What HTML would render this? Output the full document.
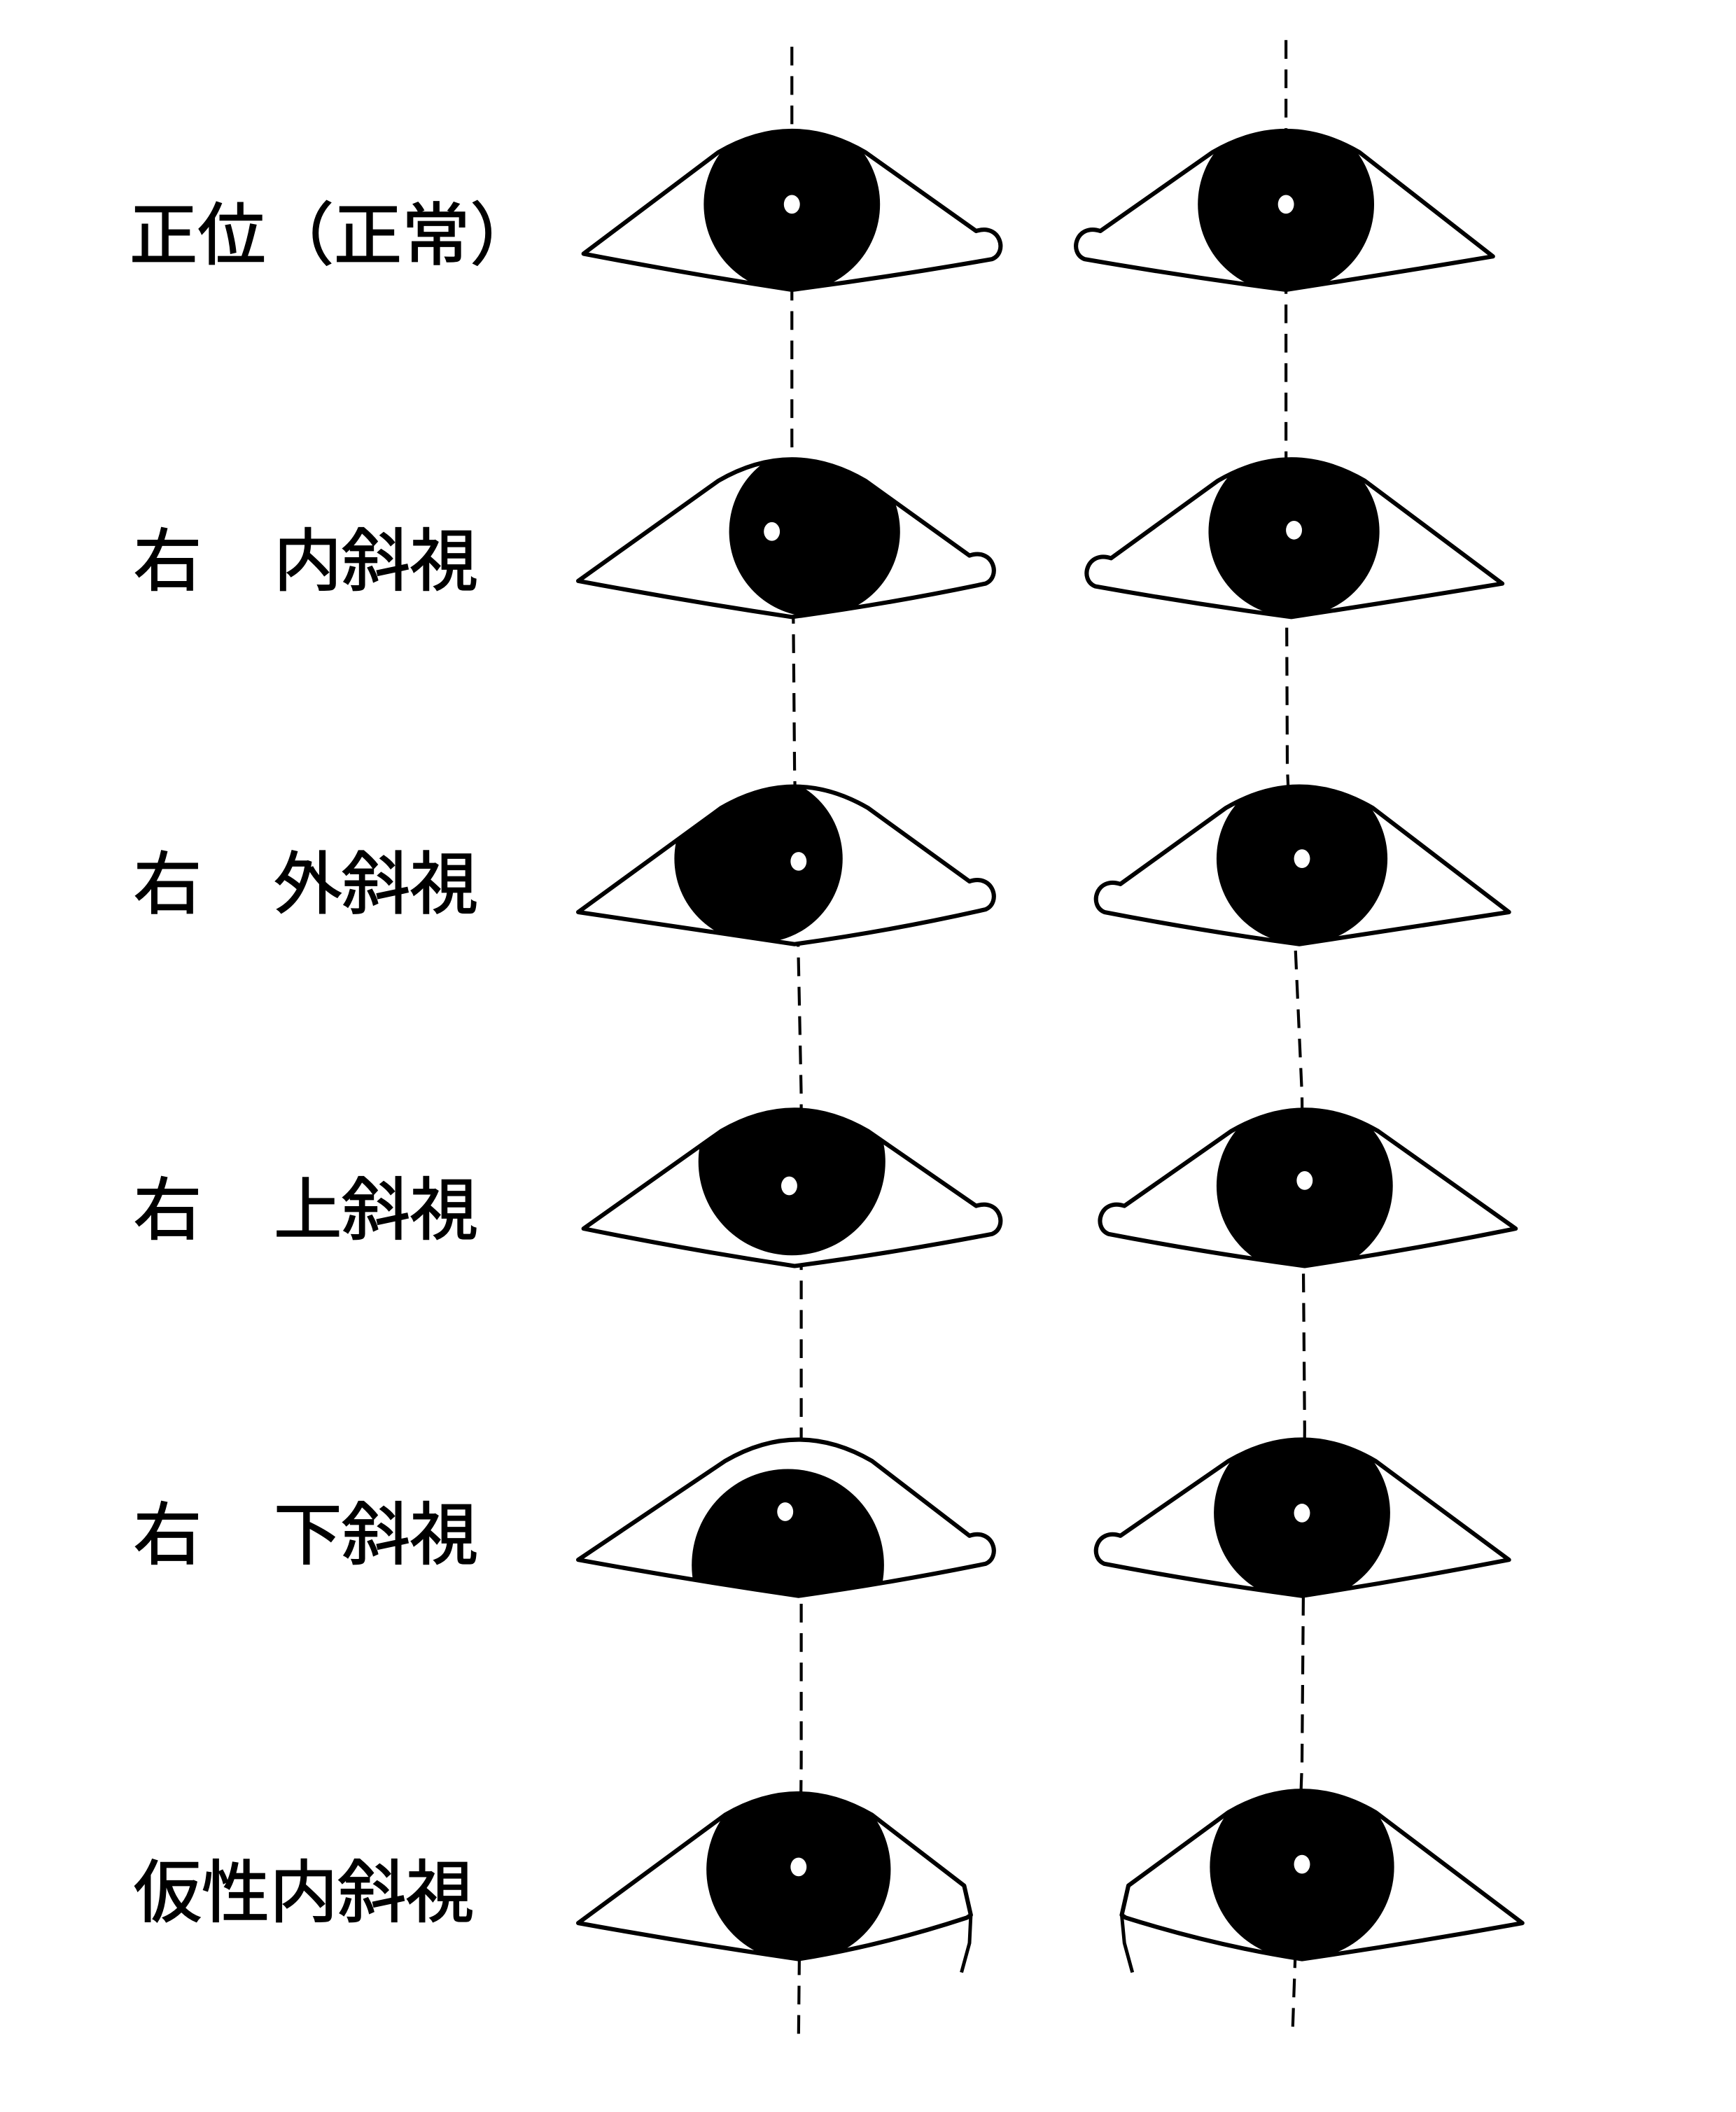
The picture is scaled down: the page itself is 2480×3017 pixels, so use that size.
<!DOCTYPE html>
<html><head><meta charset="utf-8"><style>
html,body{margin:0;padding:0;background:#fff;}
svg{display:block;}
text{font-family:"Liberation Sans","Noto Sans CJK JP",sans-serif;font-size:51px;font-weight:normal;fill:#000;stroke:#000;stroke-width:0.9px;}
</style></head><body>
<svg id="s" width="2480" height="3017" viewBox="0 0 1300 1581.5" preserveAspectRatio="none" xmlns="http://www.w3.org/2000/svg">
<text x="97" y="194">正位（正常）</text>
<text x="100" y="438">右</text><text x="205" y="438">内斜視</text>
<text x="100" y="680">右</text><text x="205" y="680">外斜視</text>
<text x="100" y="924">右</text><text x="205" y="924">上斜視</text>
<text x="100" y="1167">右</text><text x="205" y="1167">下斜視</text>
<text x="100" y="1435">仮性内斜視</text>
<g id="g"></g>
</svg>
<script>
var g=document.getElementById('g'),h='',n=0;
function eye(side,px,T,Lx,Ly,Rx,Ry,By,icx,icy,ir,ppx,ppy,last){
  var Bx=px,d;
  var a=(px-55)+','+(T+22)+' Q'+px+','+(T-10)+' '+(px+55)+','+(T+22);
  if(side==='L'){
    d='M'+Lx+','+Ly+' L'+a;
    if(last){d+=' L'+(Rx)+','+(Ry)+' L'+(Rx+5)+','+(Ry+22)+' L'+(Rx+2)+','+(Ry+24)+' Q'+((Bx+Rx)/2)+','+(By-10)+' '+Bx+','+By+' Q'+((Bx+Lx)/2)+','+(By-12)+' '+Lx+','+Ly+' Z';}
    else d+=' L'+(Rx-14)+','+(Ry-10)+' C'+(Rx+4)+','+(Ry-16)+' '+(Rx+10)+','+(Ry+6)+' '+(Rx-2)+','+(Ry+11)+' Q'+((Bx+Rx)/2)+','+(By-10)+' '+Bx+','+By+' Q'+((Bx+Lx)/2)+','+(By-12)+' '+Lx+','+Ly+' Z';
  }else{
    d='M'+Rx+','+Ry+' L'+(px+55)+','+(T+22)+' Q'+px+','+(T-10)+' '+(px-55)+','+(T+22);
    if(last){d+=' L'+(Lx)+','+(Ly)+' L'+(Lx-5)+','+(Ly+22)+' L'+(Lx-2)+','+(Ly+24)+' Q'+((Bx+Lx)/2)+','+(By-10)+' '+Bx+','+By+' Q'+((Bx+Rx)/2)+','+(By-12)+' '+Rx+','+Ry+' Z';}
    else d+=' L'+(Lx+14)+','+(Ly-10)+' C'+(Lx-4)+','+(Ly-16)+' '+(Lx-10)+','+(Ly+6)+' '+(Lx+2)+','+(Ly+11)+' Q'+((Bx+Lx)/2)+','+(By-10)+' '+Bx+','+By+' Q'+((Bx+Rx)/2)+','+(By-12)+' '+Rx+','+Ry+' Z';
  }
  n++;
  h+='<clipPath id="c'+n+'"><path d="'+d+'"/></clipPath>';
  h+='<path d="'+d+'" fill="#fff" stroke="#000" stroke-width="3.2" stroke-linejoin="round"/>';
  h+='<circle cx="'+icx+'" cy="'+icy+'" r="'+ir+'" fill="#000" clip-path="url(#c'+n+')"/>';
  h+='<ellipse cx="'+ppx+'" cy="'+ppy+'" rx="6" ry="7" fill="#fff"/>';
}
h+='<polyline points="593,35 593,330 595,575 600,820 600,1320 598,1525" fill="none" stroke="#000" stroke-width="2.2" stroke-dasharray="14,8"/>';
h+='<polyline points="963,30 963,330 964,575 975,820 977,1070 975,1320 968,1520" fill="none" stroke="#000" stroke-width="2.2" stroke-dasharray="14,8"/>';
eye('L',593,92,437,190,745,183,217,593,153,66,593,153);
eye('R',963,92,810,183,1118,192,217,963,153,66,963,153);
eye('L',593,338,433,435,740,426,462,610,398,64,578,398);
eye('R',967,338,818,428,1125,437,462,969,398,64,969,397);
eye('L',595,583,433,683,740,670,707,568,643,63,598,645);
eye('R',973,583,825,672,1130,683,707,975,643,64,975,643);
eye('L',595,825,437,920,745,913,948,593,870,70,591,888);
eye('R',977,825,828,913,1135,920,948,977,888,66,977,884);
eye('L',598,1072,433,1168,740,1160,1195,590,1172,72,588,1132);
eye('R',975,1072,825,1160,1130,1168,1195,975,1133,66,975,1133);
eye('L',598,1337,433,1440,722,1412,1467,598,1400,69,598,1398,true);
eye('R',975,1335,845,1412,1140,1440,1467,975,1398,69,975,1396,true);
h+='<polyline points="727,1434 726,1455 720,1477" fill="none" stroke="#000" stroke-width="2.6"/>';
h+='<polyline points="840,1434 842,1455 848,1477" fill="none" stroke="#000" stroke-width="2.6"/>';
g.innerHTML=h;
</script>
</body></html>
